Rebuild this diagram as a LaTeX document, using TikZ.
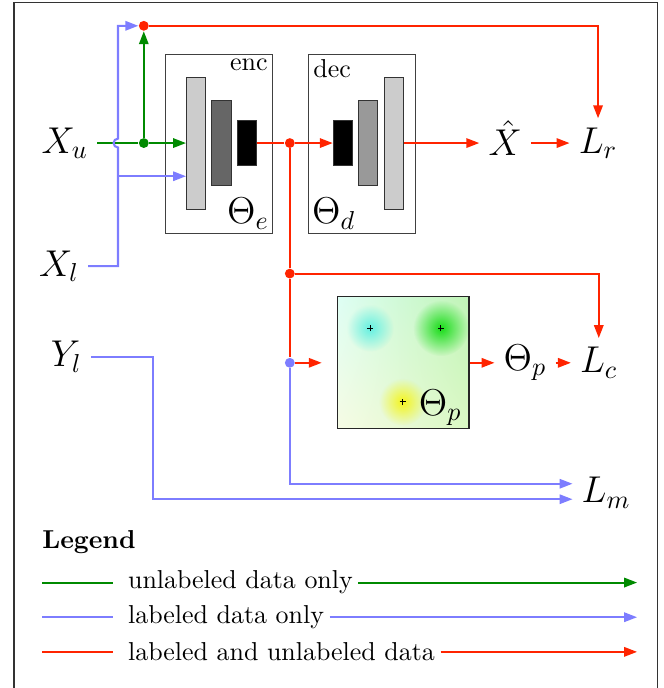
\documentclass[tikz,border=0pt]{standalone}
\usepackage{amsmath,amssymb}
\usepackage{tikz}
\usetikzlibrary{arrows.meta,positioning,fadings,shadings}
\usepackage{xcolor}
\definecolor{unlgreen}{RGB}{0,138,0}
\definecolor{labblue}{RGB}{125,125,255}
\definecolor{bothred}{RGB}{255,36,0}
\definecolor{protocyan}{RGB}{100,240,225}
\definecolor{protogreen}{RGB}{25,220,25}
\definecolor{protoyellow}{RGB}{245,245,30}
\definecolor{panelul}{RGB}{222,254,244}
\definecolor{panelur}{RGB}{192,244,182}
\definecolor{panelll}{RGB}{246,251,228}
\definecolor{panellr}{RGB}{218,248,196}
\tikzfading[name=blob fade, inner color=transparent!0, outer color=transparent!100]

\begin{document}
\begin{tikzpicture}[>={Triangle[length=5pt,width=3.6pt]}]
\tikzset{bar/.style={draw=black!80, minimum width=0.26cm, inner sep=0pt},
  net/.style={draw=black!75, minimum width=1.46cm, minimum height=2.43cm},
  panel/.style={draw=black!85, minimum width=1.78cm, minimum height=1.79cm, upper left=panelul, upper right=panelur, lower left=panelll, lower right=panellr},
  var/.style={font=\Large},
  dot/.style={circle, fill=#1, inner sep=0pt, minimum size=3.8pt},
  unl/.style={thick, unlgreen}, lab/.style={thick, labblue}, both/.style={thick, bothred}}
\useasboundingbox (0,0) rectangle (9.00,-9.33);
\draw[black!80] (0.19,-9.33) |- (8.91,-0.03) -- (8.91,-9.33);

% encoder and decoder
\node[net] (enc) at (2.97,-1.95) {};
\node[net] (dec) at (4.91,-1.95) {};
\node[anchor=north east, inner sep=2pt] at (enc.north east) {enc};
\node[anchor=north west, inner sep=2pt] at (dec.north west) {dec};
\node[var, anchor=south east, inner sep=1.5pt] (the) at (enc.south east) {$\Theta_e$};
\node[var, anchor=south west, inner sep=1.5pt] (thd) at (dec.south west) {$\Theta_d$};
\node[bar, fill=black!20, minimum height=1.79cm] (e1) at (2.66,-1.94) {};
\node[bar, fill=black!60, minimum height=1.15cm, right=0.07cm of e1] (e2) {};
\node[bar, fill=black, minimum height=0.61cm, right=0.07cm of e2] (e3) {};
\node[bar, fill=black, minimum height=0.61cm] (d1) at (4.65,-1.94) {};
\node[bar, fill=black!40, minimum height=1.15cm, right=0.07cm of d1] (d2) {};
\node[bar, fill=black!20, minimum height=1.79cm, right=0.07cm of d2] (d3) {};

% prototypes
\node[panel] (proto) at (5.47,-4.92) {};
\foreach \x/\y/\c/\r in {5.02/-4.45/protocyan/0.32, 5.98/-4.45/protogreen/0.38, 5.46/-5.45/protoyellow/0.32}{
  \fill[\c, path fading=blob fade] (\x,\y) circle (\r);
  \draw ({\x-0.04},\y) -- ({\x+0.04},\y) (\x,{\y-0.04}) -- (\x,{\y+0.04});
}
\node[var] (thpin) at (5.97,-5.53) {$\Theta_p$};

% variables
\node[var] (xu) at (0.88,-1.94) {$X_u$};
\node[var] (xl) at (0.80,-3.61) {$X_l$};
\node[var] (yl) at (0.90,-4.84) {$Y_l$};
\node[var, text depth=3.9pt] (xhat) at (6.85,-1.94) {$\hat{X}$};
\node[var] (lr) at (8.11,-1.94) {$L_r$};
\node[var] (thp) at (7.12,-4.92) {$\Theta_p$};
\node[var] (lc) at (8.12,-4.92) {$L_c$};
\node[var] (lm) at (8.22,-6.68) {$L_m$};

\node[dot=bothred] (topdot) at (1.95,-0.35) {};
\node[dot=unlgreen] (gdot) at (1.95,-1.94) {};
\node[dot=bothred] (rdot) at (3.93,-1.94) {};
\node[dot=bothred] (rdot2) at (3.93,-3.71) {};
\node[dot=labblue] (bdot) at (3.93,-4.92) {};
\coordinate (hop) at (1.60,-1.94);
\coordinate (bsplit) at (1.60,-2.39);
\coordinate (pin) at ([xshift=-0.21cm]proto.west);

% unlabeled
\draw[unl] (xu) -- (gdot);
\draw[unl,->] (gdot) -- (e1);
\draw[unl,->] (gdot) -- (topdot);
% labeled
\draw[lab,->] (xl) -| ([yshift=-0.06cm]hop) arc[start angle=270, end angle=90, radius=0.06cm] |- (topdot);
\draw[lab,->] (bsplit) -- (bsplit -| e1.west);
\draw[lab,->] (bdot) |- ([yshift=0.12cm]lm.west);
\draw[lab,->] (yl) -- (2.07,-4.84) |- ([yshift=-0.09cm]lm.west);
% both
\draw[both] (e3) -- (rdot);
\draw[both,->] (rdot) -- (d1);
\draw[both,->] (d3) -- (xhat);
\draw[both,->] (xhat) -- (lr);
\draw[both,->] (topdot) -| (lr);
\draw[both] (rdot) -- (rdot2) -- (bdot);
\draw[both,->] (rdot2) -| (lc);
\draw[both,->] (bdot) -- (pin);
\draw[both,->] (proto) -- (thp);
\draw[both,->] (thp) -- (lc);

% legend
\node[anchor=west, font=\bfseries] (legtitle) at (0.45,-7.35) {Legend};
\foreach \c/\t [count=\i] in {unl/unlabeled data only, lab/labeled data only, both/labeled and unlabeled data}{
  \node[anchor=west, inner sep=2pt] (leg\i) at (1.66,-7.43-0.47*\i) {\t};
  \draw[\c] (0.57,-7.43-0.47*\i) -- (1.53,-7.43-0.47*\i);
  \draw[\c,->] (leg\i.east) -- (8.64,-7.43-0.47*\i);
}
\end{tikzpicture}
\end{document}
